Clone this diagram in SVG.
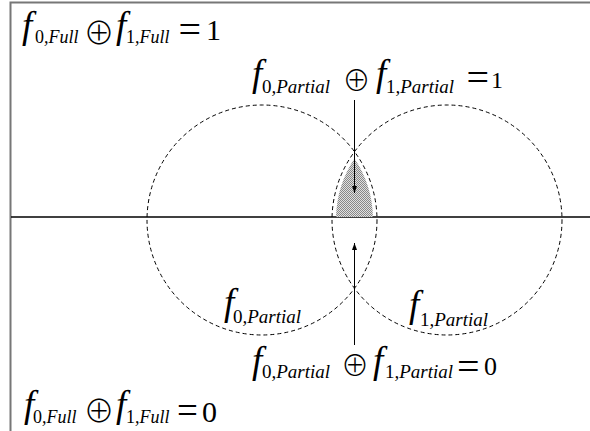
<svg xmlns="http://www.w3.org/2000/svg" width="590" height="431" viewBox="0 0 590 431">
<style>
.t{font-family:"Liberation Serif","Times New Roman",serif;fill:#000}
.f{font-style:italic;font-size:37px}
.i{font-style:italic}
.sf{font-size:18px}
.sp{font-size:19px}
.op{font-family:"Noto Sans CJK JP","DejaVu Sans",sans-serif;font-weight:300}
.opf{font-size:31px}
.opp{font-size:28px}
.eq{font-size:40px}
.eqb{font-size:37px}
.c{fill:none;stroke:#000;stroke-width:1;stroke-dasharray:4 3}
</style>
<defs>
<pattern id="hatch" width="2" height="2" patternUnits="userSpaceOnUse">
<rect width="2" height="2" fill="#e0e0e0"/>
<rect width="1" height="1" fill="#888"/>
<rect x="1" y="1" width="1" height="1" fill="#888"/>
</pattern>
<marker id="ah" markerWidth="8" markerHeight="8" refX="7" refY="4" orient="auto" markerUnits="userSpaceOnUse">
<path d="M0,1.5 L7,4 L0,6.5 Z" fill="#000"/>
</marker>
</defs>
<rect width="590" height="431" fill="#fff"/>
<g id="frame">
<path d="M10.5,431 V2.5 H590" fill="none" stroke="#777" stroke-width="2"/>
<line x1="11" y1="217" x2="590" y2="217" stroke="#000" stroke-width="1.5"/>
</g>
<g id="overlap">
<path d="M336.04,217 A111,111 0 0 1 354.5,158.6 A111,111 0 0 1 372.96,217 Z" fill="url(#hatch)"/>
</g>
<g id="circle-f0">
<circle class="c" cx="262" cy="220" r="115"/>
</g>
<g id="circle-f1">
<circle class="c" cx="447" cy="220" r="115"/>
</g>
<g id="connectors">
<line x1="354.5" y1="100" x2="354.5" y2="193" stroke="#000" stroke-width="1" marker-end="url(#ah)"/>
<line x1="354.5" y1="345" x2="354.5" y2="243" stroke="#000" stroke-width="1" marker-end="url(#ah)"/>
</g>
<g id="label-full-1">
<text class="t" font-size="30"><tspan class="f" x="22" y="38">f</tspan><tspan class="sf" x="35" y="43">0</tspan><tspan class="sf i">,Full</tspan><tspan class="op opf" x="83.5" y="44">⊕</tspan><tspan class="f" x="116" y="38">f</tspan><tspan class="sf" x="126" y="43">1</tspan><tspan class="sf i">,Full</tspan><tspan class="eq" x="178.5" y="43">=</tspan><tspan x="206" y="40">1</tspan></text>
</g>
<g id="label-partial-1">
<text class="t" font-size="24"><tspan class="f" x="252" y="86">f</tspan><tspan class="sp" x="262" y="93">0</tspan><tspan class="sp i">,Partial</tspan><tspan class="op opp" x="342.5" y="91">⊕</tspan><tspan class="f" x="376" y="86">f</tspan><tspan class="sp" x="386" y="93">1</tspan><tspan class="sp i">,Partial</tspan><tspan class="eq" x="466.5" y="91">=</tspan><tspan x="491" y="88">1</tspan></text>
</g>
<g id="label-f0">
<text class="t"><tspan class="f" x="224" y="315">f</tspan><tspan class="sp" x="233" y="323">0</tspan><tspan class="sp i">,Partial</tspan></text>
</g>
<g id="label-f1">
<text class="t"><tspan class="f" x="409" y="317">f</tspan><tspan class="sp" x="420" y="326">1</tspan><tspan class="sp i">,Partial</tspan></text>
</g>
<g id="label-partial-0">
<text class="t" font-size="26"><tspan class="f" x="252" y="373">f</tspan><tspan class="sp" x="262" y="378">0</tspan><tspan class="sp i">,Partial</tspan><tspan class="op opp" x="341" y="376">⊕</tspan><tspan class="f" x="373" y="373">f</tspan><tspan class="sp" x="385" y="378">1</tspan><tspan class="sp i">,Partial</tspan><tspan class="eq" x="457" y="380">=</tspan><tspan x="484" y="375">0</tspan></text>
</g>
<g id="label-full-0">
<text class="t" font-size="30"><tspan class="f" x="24" y="417">f</tspan><tspan class="sf" x="33" y="423">0</tspan><tspan class="sf i">,Full</tspan><tspan class="op opf" x="83.5" y="421.5">⊕</tspan><tspan class="f" x="116" y="417">f</tspan><tspan class="sf" x="126" y="423">1</tspan><tspan class="sf i">,Full</tspan><tspan class="eqb" x="177" y="422.5">=</tspan><tspan x="202" y="422">0</tspan></text>
</g>
</svg>
